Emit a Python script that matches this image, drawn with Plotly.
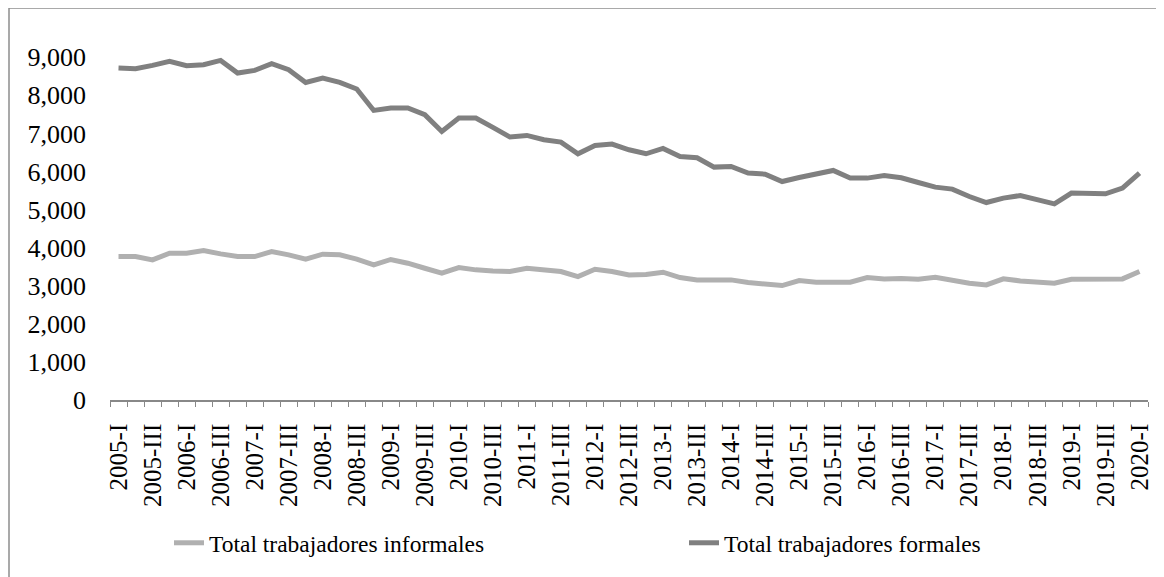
import plotly.graph_objects as go

years = list(range(2005, 2021))
roman = ["I", "II", "III", "IV"]
quarters = [f"{y}-{r}" for y in years for r in roman][:61]  # 2005-I .. 2020-I

informales = [3766, 3766, 3679, 3855, 3855, 3924, 3837, 3766, 3766, 3898,
              3811, 3697, 3829, 3811, 3697, 3548, 3690, 3592, 3460, 3329,
              3478, 3417, 3390, 3373, 3460, 3417, 3373, 3241, 3434, 3373,
              3285, 3294, 3355, 3215, 3154, 3154, 3154, 3083, 3050, 3005,
              3136, 3092, 3092, 3092, 3215, 3180, 3189, 3171, 3224, 3136,
              3066, 3022, 3180, 3127, 3083, 3066, 3171, 3180, 3180, 3180,
              3373]

formales = [8718, 8699, 8786, 8891, 8778, 8804, 8917, 8586, 8654, 8830,
            8673, 8339, 8455, 8339, 8166, 7603, 7666, 7666, 7490, 7051,
            7403, 7403, 7157, 6904, 6947, 6833, 6772, 6465, 6684, 6720,
            6570, 6465, 6605, 6394, 6360, 6115, 6132, 5958, 5930, 5737,
            5843, 5940, 6027, 5826, 5826, 5896, 5834, 5711, 5589, 5537,
            5343, 5185, 5300, 5370, 5274, 5151, 5432, 5432, 5414, 5564,
            5958]

y_ticks = list(range(0, 10000, 1000))

idx = list(range(len(quarters)))
tick_idx = idx[::2]
tick_text = [quarters[i] for i in tick_idx]

FONT = "Liberation Serif, Times New Roman, serif"

fig = go.Figure()
fig.add_trace(go.Scatter(x=idx, y=informales, mode="lines",
                         name="Total trabajadores informales",
                         line=dict(color="#b0b0b0", width=5),
                         customdata=quarters, legend="legend"))
fig.add_trace(go.Scatter(x=idx, y=formales, mode="lines",
                         name="Total trabajadores formales",
                         line=dict(color="#808080", width=5),
                         customdata=quarters, legend="legend2"))

# page body has an 8px default margin; work in screen coordinates
OFF = 8
W, H = 1164 - OFF, 577 - OFF
L = 110 - OFF
R = W - (1148 - OFF)
T = 42 - OFF
B = H - (400 - OFF)
pw, ph = W - L - R, H - T - B

def px(x):
    return (x - OFF - L) / pw

def py(y):
    return (H - B - (y - OFF)) / ph

leg_common = dict(orientation="h", xanchor="left", yanchor="middle",
                  font=dict(size=23.5, family=FONT),
                  bgcolor="rgba(0,0,0,0)")

fig.update_layout(
    width=W, height=H,
    margin=dict(l=L, r=R, t=T, b=B, autoexpand=False),
    paper_bgcolor="white", plot_bgcolor="white",
    font=dict(family=FONT, color="#000000"),
    showlegend=True,
    legend=dict(x=px(169), y=py(543), **leg_common),
    legend2=dict(x=px(684), y=py(543), **leg_common),
    xaxis=dict(range=[-0.5, len(quarters) - 0.5], tickmode="array",
               tickvals=tick_idx, ticktext=tick_text, tickangle=-90,
               tickfont=dict(size=25, family=FONT),
               showline=True, linecolor="#888888", linewidth=1.5,
               showgrid=False, zeroline=False, ticks="",
               ticklabelstandoff=12, automargin=False,
               minor=dict(tickvals=[i - 0.5 for i in idx] + [len(idx) - 0.5],
                          ticks="outside", ticklen=5, tickcolor="#888888",
                          tickwidth=1, showgrid=False)),
    yaxis=dict(range=[0, 9400], tickmode="array", tickvals=y_ticks,
               tickformat=",d", tickfont=dict(size=26, family=FONT),
               showline=False, showgrid=False, zeroline=False, ticks="",
               ticklabelstandoff=23, automargin=False),
    shapes=[
        dict(type="line", xref="paper", yref="paper",
             x0=px(9), x1=px(9), y0=py(8), y1=py(580),
             line=dict(color="#8c8c8c", width=1.5)),
        dict(type="line", xref="paper", yref="paper",
             x0=px(9), x1=px(1170), y0=py(8), y1=py(8),
             line=dict(color="#8c8c8c", width=1.5)),
    ],
)

fig.write_html("out.html")
